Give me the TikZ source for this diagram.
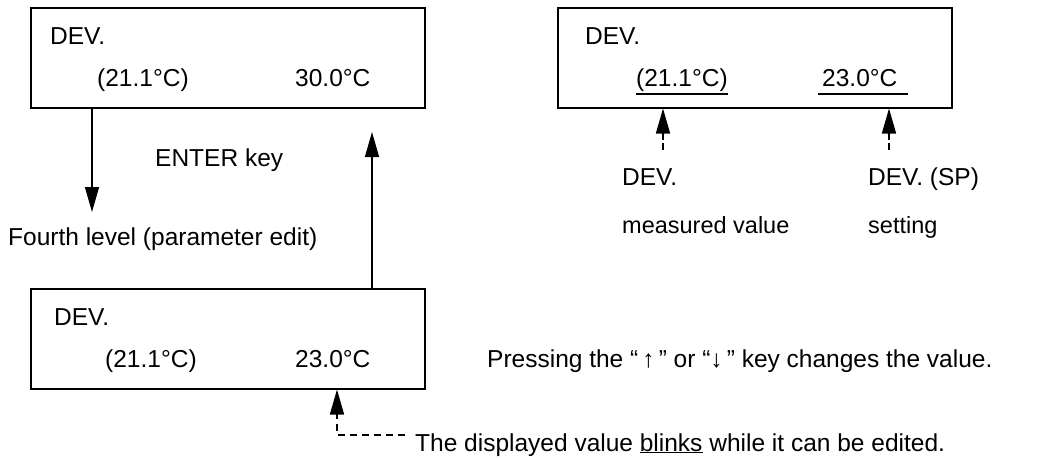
\documentclass[tikz,border=0pt]{standalone}
\usepackage{fontspec}
\setmainfont{Liberation Sans}
\usetikzlibrary{arrows.meta,positioning,calc}

\tikzset{
  panel/.style={draw,line width=1.5pt,minimum width=394pt,minimum height=100pt,anchor=north west,inner sep=0pt},
  lbl/.style={inner sep=0pt,anchor=base west,font=\fontsize{24.5}{29}\selectfont},
  small/.style={lbl,font=\fontsize{23.5}{28}\selectfont},
  arr/.style={line width=1.5pt,-{Triangle[length=25pt,width=14pt]}},
  lead/.style={line width=1.4pt,dash pattern=on 7pt off 5pt},
}

\begin{document}
\begin{tikzpicture}[x=1pt,y=-1pt]
\useasboundingbox (0,0) rectangle (1042,459);
% display panels
\node[panel] (p1) at (30,7) {};
\node[panel] (p2) at (557,7) {};
\node[panel] (p3) at (30,288) {};
% top left panel
\node[lbl] (p1d) at ($(p1.north west)+(20,37)$) {DEV.};
\node[lbl] (p1m) at ($(p1.north west)+(67,79)$) {(21.1°C)};
\node[lbl] (p1s) at ($(p1.north west)+(265,79)$) {30.0°C};
% top right panel
\node[lbl] (p2d) at ($(p2.north west)+(28,37)$) {DEV.};
\node[lbl] (p2m) at ($(p2.north west)+(79,79)$) {(21.1°C)};
\node[lbl] (p2s) at ($(p2.north west)+(265,79)$) {23.0°C};
\draw[line width=1.3pt] ([yshift=-8pt]p2m.base west) -- ([yshift=-8pt]p2m.base east);
\draw[line width=1.3pt] ([xshift=-4pt,yshift=-8pt]p2s.base west) -- ([xshift=10pt,yshift=-8pt]p2s.base east);
% bottom panel
\node[lbl] (p3d) at ($(p3.north west)+(24,37)$) {DEV.};
\node[lbl] (p3m) at ($(p3.north west)+(75,79)$) {(21.1°C)};
\node[lbl] (p3s) at ($(p3.north west)+(265,79)$) {23.0°C};
% texts
\node[lbl] (enter) at (155,166) {ENTER key};
\node[lbl] (level) at (8,245) {Fourth level (parameter edit)};
\node[lbl] (meas) at (622,185) {DEV.};
\node[small,below=48pt of meas.base west,anchor=base west] (measb) {measured value};
\node[lbl] (sp) at (868,185) {DEV. (SP)};
\node[small,below=48pt of sp.base west,anchor=base west] (spb) {setting};
\node[lbl] (hint) at (487,367) {Pressing the “\,↑\,” or “↓\,” key changes the value.};
\node[lbl] (note) at (415,451) {The displayed value \underline{blinks} while it can be edited.};
% arrows
\coordinate (e1) at (92,212);
\coordinate (e2) at (372,132);
\draw[arr] (p1.south -| e1) -- (e1);
\draw[arr] (p3.north -| e2) -- (e2);
\coordinate (m1) at (663,150);
\coordinate (m2) at (889,150);
\draw[line width=1.4pt] (m1) -- ++(0,-7);
\draw[arr] ($(m1)+(0,-10)$) -- (p2.south -| m1);
\draw[line width=1.4pt] (m2) -- ++(0,-7);
\draw[arr] ($(m2)+(0,-10)$) -- (p2.south -| m2);
\coordinate (m3) at (337,435);
\coordinate (m4) at (405,435);
\draw[lead] (m4) -- (m3) -- ++(0,-20);
\draw[arr] ($(m3)+(0,-20)$) -- (p3.south -| m3);
\end{tikzpicture}
\end{document}
